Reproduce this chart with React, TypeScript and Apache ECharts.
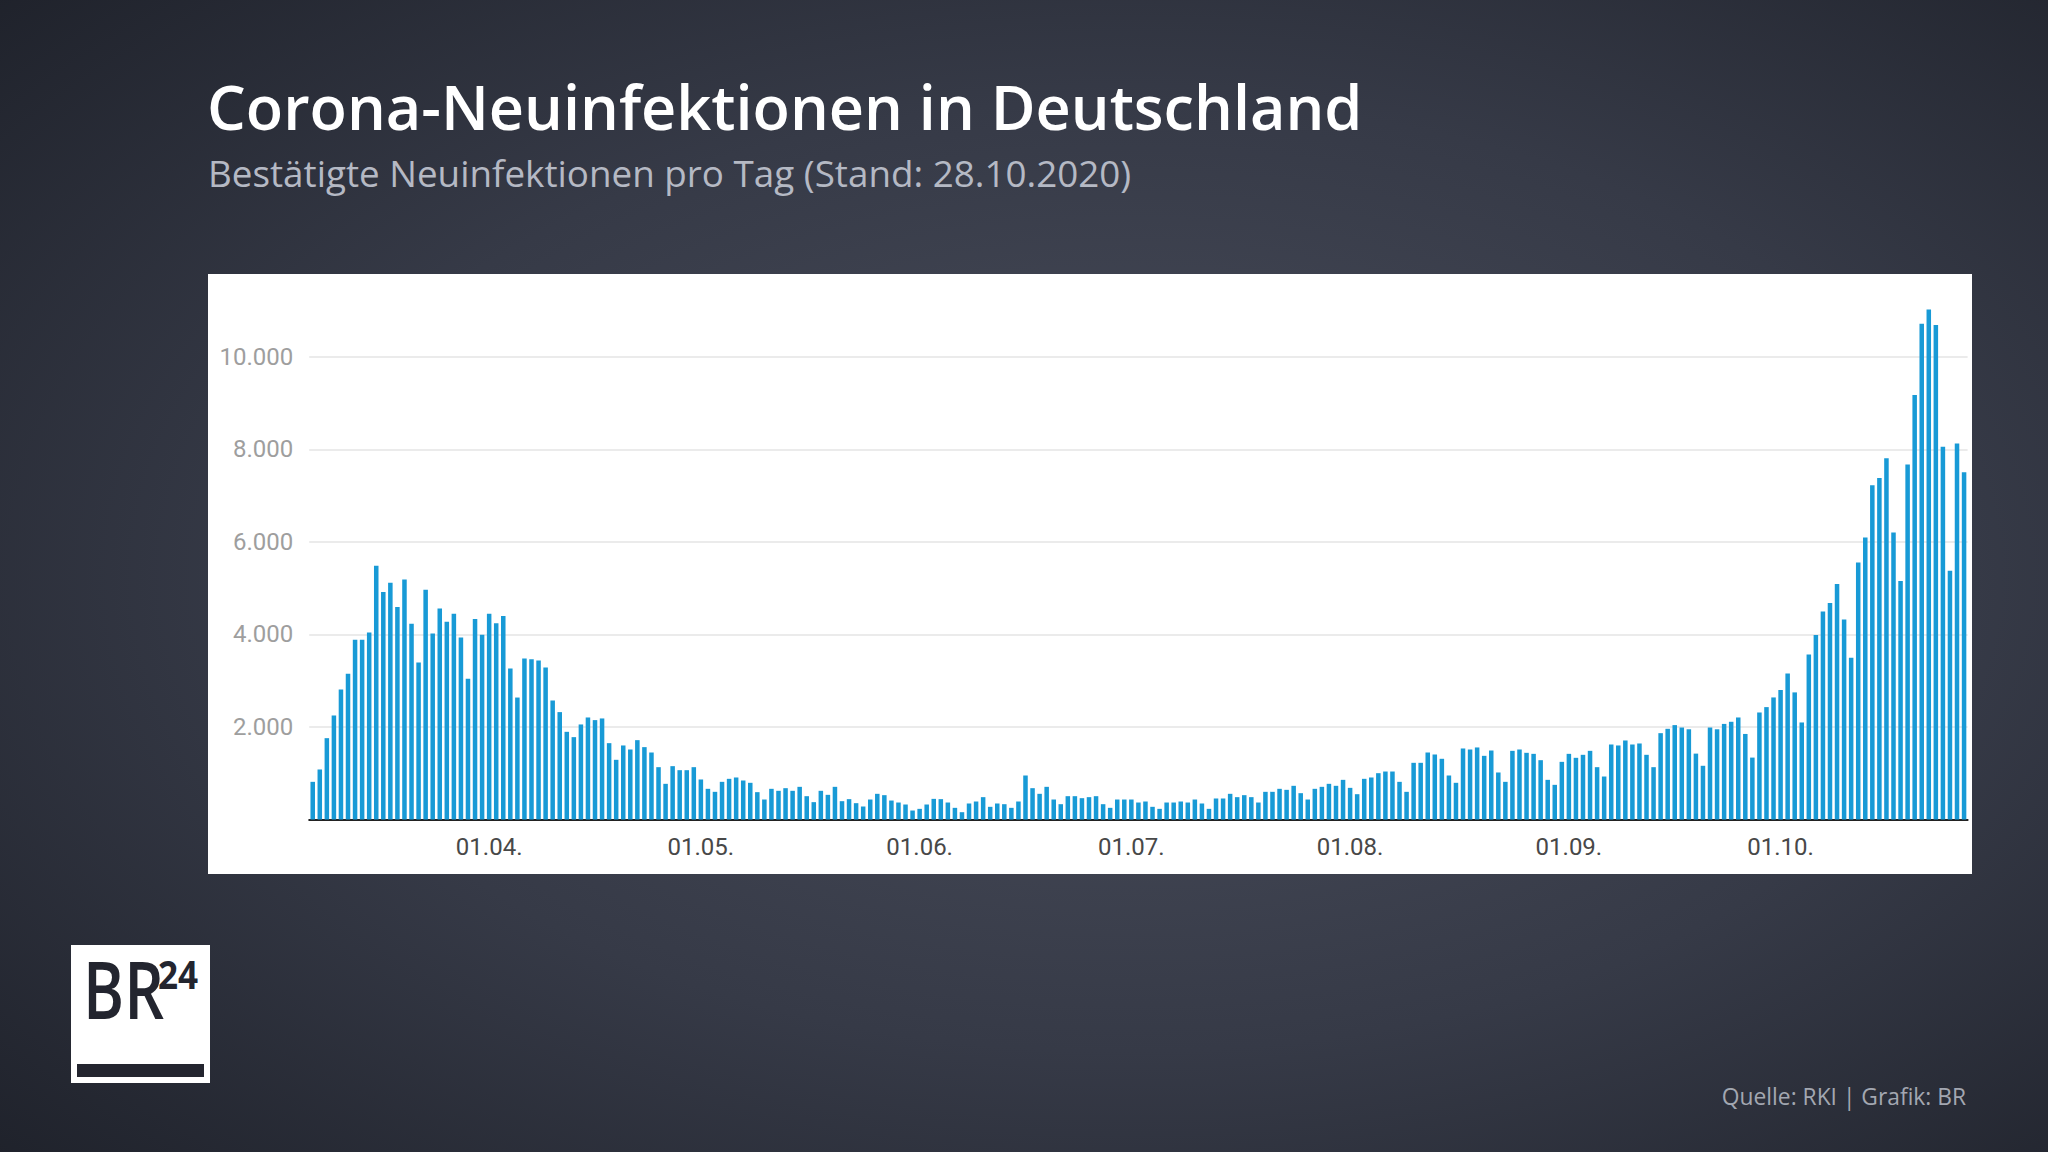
import React, { useEffect, useRef } from "react";
import * as echarts from "echarts";

const TITLE = "Corona-Neuinfektionen in Deutschland";
const SUBTITLE = "Bestätigte Neuinfektionen pro Tag (Stand: 28.10.2020)";
const SOURCE = "Quelle: RKI | Grafik: BR";
const FIRST_DAY = [2020, 3, 7]; // 07.03.2020

// daily new infections, one array per month (starting 07.03.)
const march = [814, 1081, 1758, 2248, 2811, 3149, 3884, 3884, 4043, 5484, 4915, 5117, 4591, 5189, 4230, 3394, 4965, 4021, 4562, 4273, 4447, 3934, 3041, 4336, 3991];
const april = [4447, 4244, 4400, 3264, 2636, 3480, 3466, 3437, 3286, 2572, 2321, 1895, 1780, 2054, 2205, 2148, 2184, 1650, 1290, 1600, 1513, 1715, 1564, 1448, 1131, 771, 1153, 1066, 1066, 1131];
const may = [865, 663, 598, 814, 879, 908, 843, 793, 591, 432, 663, 620, 677, 620, 706, 504, 375, 620, 533, 706, 396, 440, 353, 281, 432, 555, 526, 410, 367, 324, 194];
const june = [230, 324, 446, 440, 367, 252, 158, 346, 389, 483, 274, 346, 331, 252, 389, 951, 677, 555, 706, 432, 331, 504, 504, 461, 483, 504, 331, 252, 432, 432];
const july = [432, 367, 389, 274, 230, 367, 367, 389, 367, 432, 346, 230, 454, 454, 555, 483, 526, 483, 367, 598, 598, 663, 641, 728, 569, 432, 663, 706, 771, 728, 857];
const august = [684, 547, 879, 908, 1001, 1037, 1037, 814, 598, 1225, 1225, 1448, 1405, 1312, 951, 793, 1535, 1513, 1557, 1376, 1491, 1016, 814, 1484, 1513, 1441, 1419, 1282, 857, 749, 1246];
const september = [1419, 1333, 1398, 1484, 1131, 929, 1621, 1600, 1708, 1621, 1643, 1398, 1131, 1866, 1960, 2040, 1988, 1950, 1424, 1161, 1988, 1950, 2066, 2112, 2205, 1849, 1338, 2313, 2429, 2638];
const october = [2801, 3157, 2747, 2097, 3567, 3985, 4495, 4681, 5091, 4325, 3497, 5555, 6097, 7226, 7381, 7807, 6205, 5153, 7675, 9176, 10716, 11025, 10685, 8054, 5377, 8124, 7505];

const VALUES = [...march, ...april, ...may, ...june, ...july, ...august, ...september, ...october];

const pad = (n: number) => (n < 10 ? "0" + n : "" + n);
const DAYS: string[] = VALUES.map((_, i) => {
  const d = new Date(FIRST_DAY[0], FIRST_DAY[1] - 1, FIRST_DAY[2] + i, 12);
  return pad(d.getDate()) + "." + pad(d.getMonth() + 1) + ".";
});

const fmt = (v: number) => String(v).replace(/\B(?=(\d{3})+(?!\d))/g, ".");

export default function App() {
  const ref = useRef<HTMLDivElement>(null);
  useEffect(() => {
    if (!ref.current) return;
    const chart = echarts.init(ref.current, undefined, { renderer: "svg" });
    chart.setOption({
      animation: false,
      backgroundColor: "#2a2e39",
      graphic: [
        {
          type: "rect",
          z: -20,
          silent: true,
          shape: { x: 0, y: 0, width: 2048, height: 1152 },
          style: {
            fill: {
              type: "radial",
              x: 0.55,
              y: 0.5,
              r: 0.75,
              colorStops: [
                { offset: 0, color: "#4a4e5c" },
                { offset: 0.55, color: "#363a47" },
                { offset: 1, color: "#1f222b" },
              ],
            },
          },
        },
        {
          type: "rect",
          z: -10,
          silent: true,
          shape: { x: 208, y: 274, width: 1764, height: 600 },
          style: { fill: "#ffffff" },
        },
        {
          type: "text",
          x: 207,
          y: 106,
          style: {
            text: TITLE,
            fill: "#ffffff",
            font: "600 61.2px 'Open Sans'",
            verticalAlign: "middle",
            align: "left",
          },
        },
        {
          type: "text",
          x: 208,
          y: 173,
          style: {
            text: SUBTITLE,
            fill: "#b5b9c4",
            font: "400 36.8px 'Open Sans'",
            verticalAlign: "middle",
            align: "left",
          },
        },
        {
          type: "text",
          x: 1966,
          y: 1096,
          style: {
            text: SOURCE,
            fill: "#a3a7b1",
            font: "400 22.8px 'Open Sans'",
            verticalAlign: "middle",
            align: "right",
          },
        },
        {
          type: "rect",
          shape: { x: 71, y: 945, width: 139, height: 138 },
          style: { fill: "#ffffff" },
        },
        {
          type: "text",
          x: 83,
          y: 988,
          scaleX: 0.78,
          style: {
            text: "BR",
            fill: "#23252f",
            font: "600 80px 'Open Sans'",
            verticalAlign: "middle",
            align: "left",
          },
        },
        {
          type: "text",
          x: 158,
          y: 974,
          scaleX: 0.9,
          style: {
            text: "24",
            fill: "#23252f",
            font: "700 39px 'Open Sans'",
            verticalAlign: "middle",
            align: "left",
          },
        },
        {
          type: "rect",
          shape: { x: 77, y: 1064, width: 127, height: 13 },
          style: { fill: "#23252f" },
        },
      ],
      grid: { left: 309.2, right: 80.4, top: 287.4, bottom: 332.5, containLabel: false },
      xAxis: {
        type: "category",
        data: DAYS,
        boundaryGap: true,
        axisLine: { show: true, lineStyle: { color: "#222222", width: 2 } },
        axisTick: { show: false },
        splitLine: { show: false },
        axisLabel: {
          interval: (index: number, value: string) => index > 0 && value.startsWith("01."),
          color: "#484848",
          fontFamily: "Roboto",
          fontSize: 24,
          margin: 15,
        },
      },
      yAxis: {
        type: "value",
        min: 0,
        max: 11500,
        interval: 2000,
        axisLine: { show: false },
        axisTick: { show: false },
        splitLine: {
          show: true,
          showMinLine: false,
          showMaxLine: false,
          lineStyle: { color: "#e4e4e4", width: 1.5 },
        },
        axisLabel: {
          showMinLabel: false,
          showMaxLabel: false,
          formatter: (v: number) => (v % 2000 === 0 && v > 0 ? fmt(v) : ""),
          color: "#9e9e9e",
          fontFamily: "Roboto",
          fontSize: 24,
          margin: 16,
        },
      },
      series: [
        {
          type: "bar",
          data: VALUES,
          barWidth: "64%",
          itemStyle: { color: "#189ad6" },
          silent: true,
        },
      ],
    });
    return () => chart.dispose();
  }, []);
  return (
    <div
      ref={ref}
      style={{ position: "fixed", left: 0, top: 0, width: 2048, height: 1152 }}
    />
  );
}
